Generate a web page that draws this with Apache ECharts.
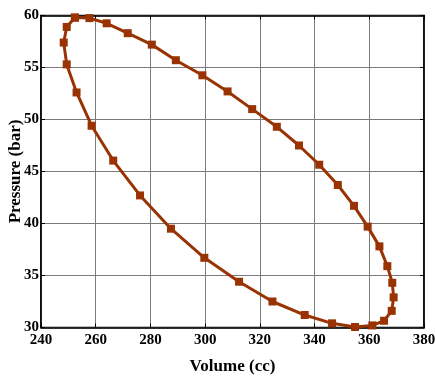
<!DOCTYPE html>
<html>
<head>
<meta charset="utf-8">
<script src="https://cdn.jsdelivr.net/npm/echarts@6/dist/echarts.min.js"></script>
<style>html,body{margin:0;padding:0;background:#fff}#c{width:435px;height:376px}</style>
</head>
<body>
<div id="c"></div>
<script>
const volume = [252.4, 257.7, 264.0, 271.7, 280.5, 289.3, 299.0, 308.2, 317.2, 326.2, 334.3, 341.7, 348.5, 354.4, 359.4, 363.7, 366.6, 368.4, 368.9, 368.2, 365.4, 361.1, 354.8, 346.4, 336.4, 324.6, 312.4, 299.7, 287.5, 276.2, 266.4, 258.5, 253.0, 249.4, 248.3, 249.4, 252.4];
const pressure = [59.8, 59.75, 59.25, 58.3, 57.2, 55.7, 54.25, 52.7, 51.0, 49.3, 47.5, 45.65, 43.7, 41.7, 39.7, 37.8, 35.9, 34.3, 32.9, 31.6, 30.65, 30.2, 30.05, 30.4, 31.2, 32.5, 34.4, 36.7, 39.5, 42.7, 46.05, 49.4, 52.6, 55.3, 57.4, 58.9, 59.8];
const xTicks = [240, 260, 280, 300, 320, 340, 360, 380];
const yTicks = [30, 35, 40, 45, 50, 55, 60];
const xTitle = 'Volume (cc)';
const yTitle = 'Pressure (bar)';

const font = 'Liberation Serif';
const chart = echarts.init(document.getElementById('c'), null, {renderer: 'canvas'});
const pts = volume.map((v, i) => [v, pressure[i]]);
const xMin = xTicks[0], xMax = xTicks[xTicks.length - 1], xInt = xTicks[1] - xTicks[0];
const yMin = yTicks[0], yMax = yTicks[yTicks.length - 1], yInt = yTicks[1] - yTicks[0];
const lbl = {color: '#000', fontFamily: font, fontWeight: 'bold', fontSize: 15};
chart.setOption({
  animation: false,
  grid: {left: 41, right: 11, top: 15.5, bottom: 48.5, show: true, borderColor: '#000', borderWidth: 1.5,
         containLabel: false, outerBoundsMode: 'none'},
  xAxis: [{
    type: 'value', min: xMin, max: xMax, interval: xInt, position: 'bottom',
    name: xTitle, nameLocation: 'middle', nameGap: 31, nameMoveOverlap: false,
    nameTextStyle: {color: '#000', fontFamily: font, fontWeight: 'bold', fontSize: 17},
    axisLine: {show: true, lineStyle: {color: '#000', width: 1.5}},
    axisTick: {show: true, inside: true, length: 4, lineStyle: {color: '#000'}},
    axisLabel: Object.assign({margin: 5}, lbl),
    splitLine: {show: true, lineStyle: {color: '#7a7a7a', width: 1}}
  }, {
    type: 'value', min: xMin, max: xMax, interval: xInt, position: 'top',
    axisLine: {show: true, lineStyle: {color: '#000', width: 1.5}},
    axisTick: {show: true, inside: true, length: 4, lineStyle: {color: '#000'}},
    axisLabel: {show: false}, splitLine: {show: false}
  }],
  yAxis: [{
    type: 'value', min: yMin, max: yMax, interval: yInt, position: 'left',
    name: yTitle, nameLocation: 'middle', nameGap: 17, nameMoveOverlap: false,
    nameTextStyle: {color: '#000', fontFamily: font, fontWeight: 'bold', fontSize: 17},
    axisLine: {show: true, lineStyle: {color: '#000', width: 1.5}},
    axisTick: {show: true, inside: true, length: 4, lineStyle: {color: '#000'}},
    axisLabel: Object.assign({margin: 2}, lbl),
    splitLine: {show: true, lineStyle: {color: '#7a7a7a', width: 1}}
  }, {
    type: 'value', min: yMin, max: yMax, interval: yInt, position: 'right',
    axisLine: {show: true, lineStyle: {color: '#000', width: 1.5}},
    axisTick: {show: true, inside: true, length: 4, lineStyle: {color: '#000'}},
    axisLabel: {show: false}, splitLine: {show: false}
  }],
  series: [{
    type: 'line', data: pts, clip: false, smooth: false,
    symbol: 'rect', symbolSize: 8,
    lineStyle: {color: '#9a3303', width: 3},
    itemStyle: {color: '#9a3303'}
  }]
});
</script>
</body>
</html>
